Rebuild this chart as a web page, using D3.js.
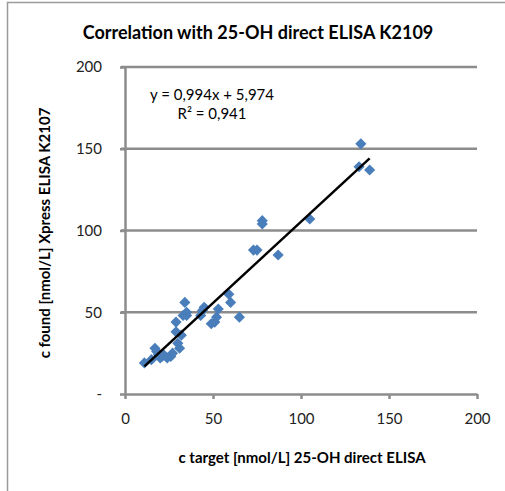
<!DOCTYPE html>
<html lang="en">
<head>
<meta charset="UTF-8">
<title>Correlation with 25-OH direct ELISA K2109</title>
<script src="https://cdn.jsdelivr.net/npm/d3@7"></script>
<style>
    body { margin: 0; background: #fff; }
    text { font-family: 'Lato', 'Liberation Sans', sans-serif; fill: #000; }
    .grid line { stroke: #8c8c8c; stroke-width: 2.5; }
    .axis path, .axis line { stroke: #8c8c8c; stroke-width: 2.5; fill: none; }
    .axis text { font-size: 15px; fill: #222; }
    .dot { fill: #4a7ebb; }
</style>
</head>
<body>
<svg id="img" width="505" height="491"></svg>
<script>
    // measured points: c target (x) vs c found (y), nmol/L
    var xTarget = [11, 15, 17, 18, 19, 20, 21, 22, 24, 26, 27, 30, 29, 29, 31, 32, 33, 34, 35, 35,
                   43, 44, 45, 49, 51, 53, 52, 59, 60, 65, 73, 75, 78, 78, 87, 105, 133, 134, 139];
    var yFound  = [19, 21, 28, 26, 24, 22, 23, 24, 22, 23, 25, 31, 38, 44, 28, 36, 48, 56, 50, 48,
                   48, 51, 53, 43, 44, 52, 47, 61, 56, 47, 88, 88, 104, 106, 85, 107, 139, 153, 137];
    var xTicks = [0, 50, 100, 150, 200];
    var yTicks = [0, 50, 100, 150, 200];
    var slope = 0.994, intercept = 5.974;
    var eqLabel = "y = 0,994x + 5,974";
    var r2Label = "R\u00b2 = 0,941";

    var points = xTarget.map(function (x, i) { return {x: x, y: yFound[i]}; });

    var vis = d3.select("#img"),
        MARGINS = {left: 125, right: 477, top: 67, bottom: 394};

    var xRange = d3.scaleLinear().domain([0, 200]).range([MARGINS.left, MARGINS.right]),
        yRange = d3.scaleLinear().domain([0, 200]).range([MARGINS.bottom, MARGINS.top]);

    // outer chart frame
    vis.append("path")
        .attr("d", "M7.5,491 L7.5,2.5 L505,2.5")
        .attr("fill", "none")
        .attr("stroke", "#9a9a9a")
        .attr("stroke-width", 1.5);

    vis.append("text")
        .attr("x", 258).attr("y", 39)
        .attr("text-anchor", "middle")
        .style("font-size", "18px").style("font-weight", "bold")
        .text("Correlation with 25-OH direct ELISA K2109");

    // horizontal gridlines
    vis.append("g").attr("class", "grid")
        .selectAll("line")
        .data(yTicks.filter(function (d) { return d > 0; }))
        .enter().append("line")
        .attr("x1", MARGINS.left - 4).attr("x2", MARGINS.right)
        .attr("y1", function (d) { return yRange(d); })
        .attr("y2", function (d) { return yRange(d); });

    var xAxis = d3.axisBottom(xRange).tickValues(xTicks).tickSize(5).tickSizeOuter(0).tickPadding(14);
    var yAxis = d3.axisLeft(yRange).tickValues(yTicks).tickSize(5).tickSizeOuter(0).tickPadding(18)
        .tickFormat(function (d) { return d === 0 ? "-" : d; });

    vis.append("g").attr("class", "x axis")
        .attr("transform", "translate(0," + MARGINS.bottom + ")")
        .call(xAxis);
    vis.append("g").attr("class", "y axis")
        .attr("transform", "translate(" + MARGINS.left + ",0)")
        .call(yAxis);

    // points
    var diamond = d3.symbol().type(d3.symbolSquare).size(62);
    vis.append("g").selectAll("path")
        .data(points)
        .enter().append("path")
        .attr("class", "dot")
        .attr("d", diamond)
        .attr("transform", function (d) {
            return "translate(" + xRange(d.x) + "," + yRange(d.y) + ") rotate(45)";
        });

    // linear trend line
    var xExt = d3.extent(xTarget);
    var lineFunc = d3.line()
        .x(function (d) { return xRange(d); })
        .y(function (d) { return yRange(slope * d + intercept); });
    vis.append("path")
        .attr("d", lineFunc(xExt))
        .attr("stroke", "#000")
        .attr("stroke-width", 2.5)
        .attr("fill", "none");

    vis.append("text")
        .attr("x", 212).attr("y", 100)
        .attr("text-anchor", "middle")
        .style("font-size", "15px")
        .text(eqLabel);
    vis.append("text")
        .attr("x", 212).attr("y", 119)
        .attr("text-anchor", "middle")
        .style("font-size", "15px")
        .text(r2Label);

    vis.append("text")
        .attr("x", 302).attr("y", 463)
        .attr("text-anchor", "middle")
        .style("font-size", "15px").style("font-weight", "bold")
        .text("c target [nmol/L] 25-OH direct ELISA");

    vis.append("text")
        .attr("transform", "translate(50,233) rotate(-90)")
        .attr("text-anchor", "middle")
        .style("font-size", "15px").style("font-weight", "bold")
        .text("c found [nmol/L] Xpress ELISA K2107");
</script>
</body>
</html>
